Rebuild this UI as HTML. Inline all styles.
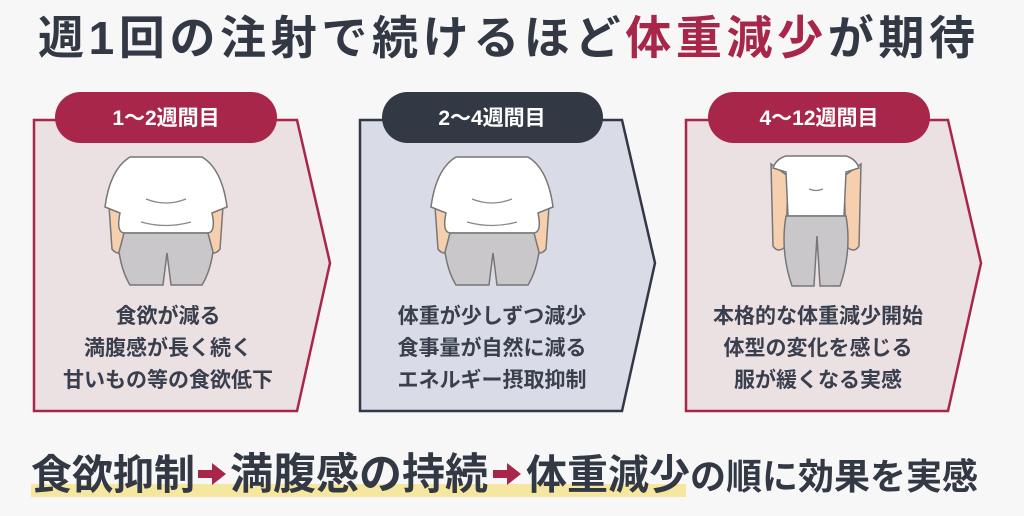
<!DOCTYPE html>
<html><head><meta charset="utf-8"><style>
body{margin:0;width:1024px;height:516px;background:#f7f7f8;overflow:hidden;font-family:"Liberation Sans","Noto Sans CJK JP",sans-serif;}
svg{position:absolute;left:0;top:0}
</style></head><body>
<svg width="1024" height="516" viewBox="0 0 1024 516" font-family="Liberation Sans, Noto Sans CJK JP, sans-serif">
<defs>
<g id="fat">
  <path d="M-58,35 L-54,92 Q-48,100 -40,92 L-42,40 Z M58,35 L54,92 Q48,100 40,92 L42,40 Z" fill="#f6cfae" stroke="#777" stroke-width="1.5"/>
  <path d="M-36,0 L36,0 Q56,12 61,50 L46,56 Q50,75 42,76 L-42,76 Q-50,75 -46,56 L-61,50 Q-56,12 -36,0 Z" fill="#fff" stroke="#777" stroke-width="1.5"/>
  <path d="M-20,42 Q0,50 20,42 M-25,65 Q0,72 25,65" fill="none" stroke="#888" stroke-width="1.3"/>
  <path d="M-42,76 L42,76 L47,95 Q44,115 36,128 L5,128 L1,96 L-3,128 L-36,128 Q-44,115 -47,95 Z" fill="#c9c7c9" stroke="#777" stroke-width="1.5"/>
</g>
<g id="slim">
  <path d="M-45,8 L-43,90 Q-38,98 -30,90 L-28,20 Z M45,8 L43,90 Q38,98 30,90 L28,20 Z" fill="#f6cfae" stroke="#777" stroke-width="1.5"/>
  <path d="M-30,0 L30,0 Q40,3 43,12 L30,16 L28,60 L-28,60 L-30,16 L-43,12 Q-40,3 -30,0 Z" fill="#fff" stroke="#777" stroke-width="1.5"/>
  <path d="M-7,33 Q0,36 7,33" fill="none" stroke="#888" stroke-width="1.3"/>
  <path d="M-30,60 L30,60 Q36,95 24,130 L4,130 L1,80 L-2,130 L-24,130 Q-36,95 -30,60 Z" fill="#c9c7c9" stroke="#777" stroke-width="1.5"/>
</g>
</defs>
<text x="38" y="54" font-size="46" font-weight="bold" fill="#333845" textLength="937" lengthAdjust="spacing">週1回の注射で続けるほど<tspan fill="#a8264a">体重減少</tspan>が期待</text>

<polygon points="34,120 297,120 330,263 297,411 34,411" fill="#ebe0e2" stroke="#a8264a" stroke-width="2.5"/>
<polygon points="360,120 622,120 655,263 622,411 360,411" fill="#d9dce6" stroke="#333845" stroke-width="2.5"/>
<polygon points="686,120 948,120 981,263 948,411 686,411" fill="#ebe0e2" stroke="#a8264a" stroke-width="2.5"/>

<rect x="55" y="92" width="222" height="51" rx="25.5" fill="#a8264a"/>
<rect x="382" y="92" width="221" height="51" rx="25.5" fill="#333845"/>
<rect x="708" y="92" width="222" height="51" rx="25.5" fill="#a8264a"/>
<g font-size="21" font-weight="bold" fill="#fff" text-anchor="middle">
<text x="166" y="125">1〜2週間目</text>
<text x="492" y="125">2〜4週間目</text>
<text x="819" y="125">4〜12週間目</text>
</g>

<use href="#fat" x="166" y="157"/>
<use href="#fat" x="492" y="157"/>
<use href="#slim" x="816" y="156"/>

<g font-size="21" font-weight="bold" fill="#3a3f4e" text-anchor="middle">
<text x="168" y="323">食欲が減る</text>
<text x="168" y="355">満腹感が長く続く</text>
<text x="168" y="387">甘いもの等の食欲低下</text>
<text x="492" y="323">体重が少しずつ減少</text>
<text x="492" y="355">食事量が自然に減る</text>
<text x="492" y="387">エネルギー摂取抑制</text>
<text x="818" y="323">本格的な体重減少開始</text>
<text x="818" y="355">体型の変化を感じる</text>
<text x="818" y="387">服が緩くなる実感</text>
</g>

<rect x="31" y="484" width="655" height="13" fill="#f5e6a0"/>
<g font-weight="bold" fill="#333845">
<text x="31" y="489" font-size="41">食欲抑制</text>
<text x="230" y="489" font-size="43">満腹感の持続</text>
<text x="526" y="489" font-size="41">体重減少</text>
<text x="690" y="489" font-size="36">の順に効果を実感</text>
</g>
<polygon points="198,470 212,470 212,463 226,474 212,485 212,478 198,478" fill="#a8264a"/>
<polygon points="493,470 507,470 507,463 521,474 507,485 507,478 493,478" fill="#a8264a"/>
</svg>
</body></html>
